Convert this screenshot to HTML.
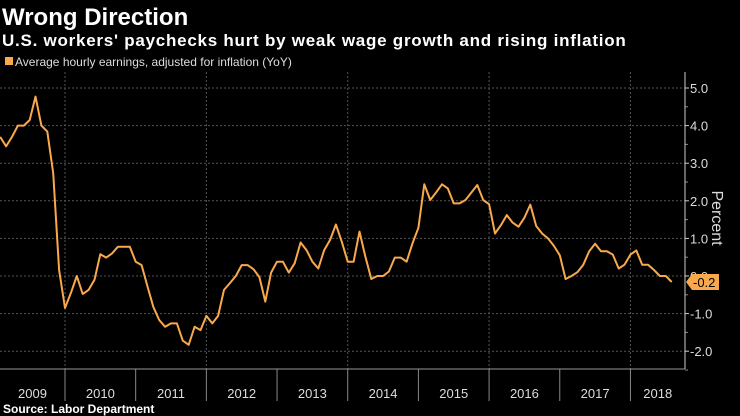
<!DOCTYPE html>
<html><head><meta charset="utf-8"><style>
body{margin:0;background:#000;width:740px;height:416px;overflow:hidden;font-family:"Liberation Sans",sans-serif;color:#fff}
</style></head><body>
<svg width="740" height="416" style="display:block">
<text x="2" y="25" font-size="24" font-weight="bold" fill="#fff">Wrong Direction</text>
<text x="2" y="46" font-size="17" font-weight="bold" fill="#fff" letter-spacing="0.75">U.S. workers' paychecks hurt by weak wage growth and rising inflation</text>
<rect x="5" y="57" width="8" height="8" fill="#f9a94b"/>
<text x="15" y="66" font-size="12" fill="#ddd">Average hourly earnings, adjusted for inflation (YoY)</text>
<g id="grid"></g>
<g id="axes"></g>
<polyline id="line" fill="none" stroke="#f9a94b" stroke-width="2" stroke-linejoin="round"/>
<g id="lastlabel"></g>
<text transform="translate(712,218) rotate(90)" font-size="16" fill="#ddd" text-anchor="middle">Percent</text>
<text x="3" y="413" font-size="12" font-weight="bold" fill="#fff">Source: Labor Department</text>
</svg>
<script>
const values=[3.7,3.45,3.7,4.0,4.0,4.15,4.77,4.0,3.84,2.74,0.16,-0.85,-0.45,0.0,-0.48,-0.37,-0.1,0.58,0.49,0.6,0.78,0.78,0.78,0.38,0.29,-0.28,-0.82,-1.17,-1.35,-1.26,-1.26,-1.72,-1.83,-1.35,-1.44,-1.06,-1.26,-1.06,-0.37,-0.19,0.0,0.29,0.29,0.18,-0.03,-0.68,0.09,0.38,0.38,0.09,0.34,0.89,0.69,0.38,0.2,0.69,0.96,1.37,0.91,0.38,0.38,1.18,0.51,-0.08,0.0,0.0,0.12,0.49,0.49,0.38,0.87,1.28,2.44,2.02,2.22,2.44,2.33,1.93,1.93,2.02,2.22,2.42,2.02,1.91,1.13,1.35,1.62,1.42,1.31,1.55,1.9,1.33,1.13,1.0,0.8,0.55,-0.08,0.0,0.1,0.3,0.66,0.86,0.66,0.66,0.57,0.2,0.3,0.57,0.68,0.3,0.3,0.16,0.0,0.0,-0.16];
const years=[2009,2010,2011,2012,2013,2014,2015,2016,2017,2018];
const yTicks=[5,4,3,2,1,0,-1,-2];
const yTickLabels=["5.0","4.0","3.0","2.0","1.0","0.0","-1.0","-2.0"];
const lastLabel="-0.2";
const startYear=2009, startMonth=1;
const NS="http://www.w3.org/2000/svg";
const plotL=0,plotR=685,plotT=72,plotB=369;
const monthPx=5.89, x2010=65;
function xMonth(m){return x2010+(m-(2010*12))*monthPx;}
function xIdx(i){return xMonth(startYear*12+startMonth+i);}
function y(v){return 276-v*37.6;}
function el(t,a,p){const e=document.createElementNS(NS,t);for(const k in a)e.setAttribute(k,a[k]);p.appendChild(e);return e;}
const grid=document.getElementById('grid'),axes=document.getElementById('axes');
yTicks.forEach((t,i)=>{
  const g=el('line',{x1:plotL,x2:plotR,y1:y(t),y2:y(t),stroke:'#555','stroke-dasharray':'2,2','stroke-width':1},grid);
  
  
  const tk=el('line',{x1:plotR,x2:plotR+4,y1:y(t),y2:y(t),stroke:'#ccc'},axes);
  
  
  const mk=el('line',{x1:plotR,x2:plotR+3,y1:y(t-0.5),y2:y(t-0.5),stroke:'#888'},axes);
  
  
  const tx=el('text',{x:plotR+5,y:y(t)+5,'font-size':13,fill:'#ddd'},axes);
  tx.textContent=yTickLabels[i];
  
  
});
years.forEach(yr=>{
  const xs=xMonth(yr*12), xe=xMonth((yr+1)*12);
  if(yr%2===0){
    const g=el('line',{x1:xs,x2:xs,y1:plotT,y2:plotB,stroke:'#555','stroke-dasharray':'2,2'},grid);
    
    
  }
  if(xs>0){
    const s=el('line',{x1:xs,x2:xs,y1:plotB,y2:401,stroke:'#888'},axes);
    
    
  }
  const a=Math.max(xs,plotL), b=Math.min(xe,plotR);
  const t=el('text',{x:(a+b)/2,y:398,'font-size':13,fill:'#ddd','text-anchor':'middle'},axes);
  t.textContent=yr;
  
  
});
const ax=el('line',{x1:plotR,x2:plotR,y1:plotT,y2:plotB,stroke:'#ccc'},axes);


const bx=el('line',{x1:0,x2:plotR,y1:plotB,y2:plotB,stroke:'#999'},axes);


document.getElementById('line').setAttribute('points',values.map((v,i)=>xIdx(i).toFixed(1)+','+y(v).toFixed(1)).join(' '));
const ll=document.getElementById('lastlabel');
const ly=y(values[values.length-1]);
const tag=el('path',{d:`M${plotR+1},${ly} L${plotR+7},${ly-8} L${plotR+34},${ly-8} L${plotR+34},${ly+8} L${plotR+7},${ly+8} Z`,fill:'#f9a94b'},ll);


const lt=el('text',{x:plotR+8,y:ly+5,'font-size':13,fill:'#000'},ll);
lt.textContent=lastLabel;


</script>
</body></html>
